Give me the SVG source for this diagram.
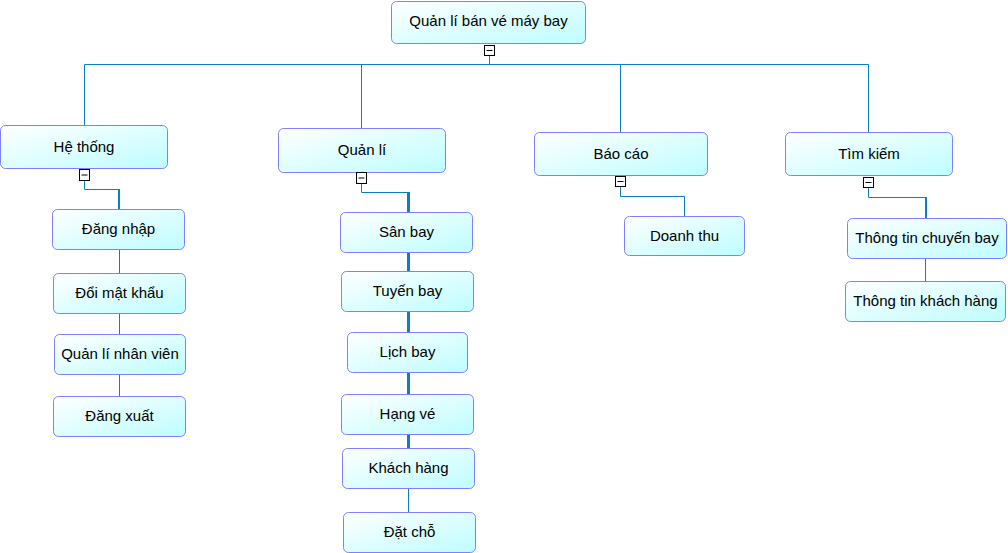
<svg xmlns="http://www.w3.org/2000/svg" width="1008" height="553" viewBox="0 0 1008 553">
<defs>
<linearGradient id="nodeFill" x1="0" y1="0" x2="1" y2="1">
<stop offset="0" stop-color="#ffffff"/>
<stop offset="1" stop-color="#bdfdff"/>
</linearGradient>
</defs>
<style>
.node rect.box{fill:url(#nodeFill);stroke:#8080ff;stroke-width:1}
.node text{font-family:"Liberation Sans",Arial,sans-serif;font-size:15px;fill:#000;text-anchor:middle}
.toggle rect{fill:#fff;stroke:#000;stroke-width:1}
.toggle line{stroke:#000;stroke-width:1}
.conn path{fill:none;stroke:#0a80c2;stroke-width:1}
.conn path.thick{stroke-width:3}
.conn path.mid{stroke-width:2}
</style>
<rect width="1008" height="553" fill="#fff"/>
<g id="connectors" class="conn">
<path d="M84.5,125 V64.5 H868.5 V132"/>
<path d="M361.5,64.5 V128"/>
<path d="M620.5,64.5 V132"/>
<path d="M489.5,56 V64.5"/>
<path d="M84.5,181 V189.5 H119"/>
<path class="mid" d="M119,189 V209"/>
<path d="M119.5,249 V273 M119.5,313 V334 M119.5,374 V396"/>
<path d="M361.5,184 V192.5 H408"/>
<path class="thick" d="M408.5,192 V212 M408.5,252 V271 M408.5,311 V332 M408.5,372 V394 M408.5,434 V448"/>
<path d="M408.5,488 V512"/>
<path d="M620.5,187 V196.5 H684.5 V216"/>
<path d="M868.5,188 V197.5 H926"/>
<path class="mid" d="M926,197 V218"/>
<path d="M925.5,258 V281"/>
</g>
<g id="root" class="node">
<rect class="box" x="391.5" y="1.5" width="194" height="42" rx="5"/>
<text x="488.5" y="26">Quản lí bán vé máy bay</text>
<g class="toggle"><rect x="484.5" y="45.5" width="10" height="10"/><line x1="486.5" y1="50.5" x2="492.5" y2="50.5"/></g>
</g>
<g id="he-thong" class="node">
<rect class="box" x="0.5" y="125.5" width="167" height="43" rx="5"/>
<text x="84" y="152">Hệ thống</text>
<g class="toggle"><rect x="79.5" y="169.5" width="10" height="11"/><line x1="81.5" y1="175" x2="87.5" y2="175"/></g>
</g>
<g id="dang-nhap" class="node">
<rect class="box" x="52.5" y="209.5" width="132" height="40" rx="5"/>
<text x="118.5" y="234">Đăng nhập</text>
</g>
<g id="doi-mat-khau" class="node">
<rect class="box" x="53.5" y="273.5" width="132" height="40" rx="5"/>
<text x="119.5" y="298">Đổi mật khẩu</text>
</g>
<g id="quan-li-nhan-vien" class="node">
<rect class="box" x="54.5" y="334.5" width="131" height="40" rx="5"/>
<text x="120" y="359">Quản lí nhân viên</text>
</g>
<g id="dang-xuat" class="node">
<rect class="box" x="53.5" y="396.5" width="132" height="40" rx="5"/>
<text x="119.5" y="421">Đăng xuất</text>
</g>
<g id="quan-li" class="node">
<rect class="box" x="278.5" y="128.5" width="167" height="44" rx="5"/>
<text x="362" y="155">Quản lí</text>
<g class="toggle"><rect x="356.5" y="172.5" width="10" height="11"/><line x1="358.5" y1="178" x2="364.5" y2="178"/></g>
</g>
<g id="san-bay" class="node">
<rect class="box" x="340.5" y="212.5" width="132" height="40" rx="5"/>
<text x="406.5" y="237">Sân bay</text>
</g>
<g id="tuyen-bay" class="node">
<rect class="box" x="341.5" y="271.5" width="132" height="40" rx="5"/>
<text x="407.5" y="296">Tuyến bay</text>
</g>
<g id="lich-bay" class="node">
<rect class="box" x="347.5" y="332.5" width="120" height="40" rx="5"/>
<text x="407.5" y="357">Lịch bay</text>
</g>
<g id="hang-ve" class="node">
<rect class="box" x="341.5" y="394.5" width="132" height="40" rx="5"/>
<text x="407.5" y="419">Hạng vé</text>
</g>
<g id="khach-hang" class="node">
<rect class="box" x="342.5" y="448.5" width="132" height="40" rx="5"/>
<text x="408.5" y="473">Khách hàng</text>
</g>
<g id="dat-cho" class="node">
<rect class="box" x="343.5" y="512.5" width="132" height="40" rx="5"/>
<text x="409.5" y="537">Đặt chỗ</text>
</g>
<g id="bao-cao" class="node">
<rect class="box" x="534.5" y="132.5" width="173" height="43" rx="5"/>
<text x="621" y="159">Báo cáo</text>
<g class="toggle"><rect x="615.5" y="176.5" width="10" height="10"/><line x1="617.5" y1="181.5" x2="623.5" y2="181.5"/></g>
</g>
<g id="doanh-thu" class="node">
<rect class="box" x="624.5" y="216.5" width="120" height="39" rx="5"/>
<text x="684.5" y="240.5">Doanh thu</text>
</g>
<g id="tim-kiem" class="node">
<rect class="box" x="785.5" y="132.5" width="167" height="43" rx="5"/>
<text x="869" y="159">Tìm kiếm</text>
<g class="toggle"><rect x="863.5" y="177.5" width="10" height="10"/><line x1="865.5" y1="182.5" x2="871.5" y2="182.5"/></g>
</g>
<g id="thong-tin-chuyen-bay" class="node">
<rect class="box" x="847.5" y="218.5" width="159" height="40" rx="5"/>
<text x="927" y="243">Thông tin chuyến bay</text>
</g>
<g id="thong-tin-khach-hang" class="node">
<rect class="box" x="845.5" y="281.5" width="160" height="40" rx="5"/>
<text x="925.5" y="306">Thông tin khách hàng</text>
</g>
</svg>
